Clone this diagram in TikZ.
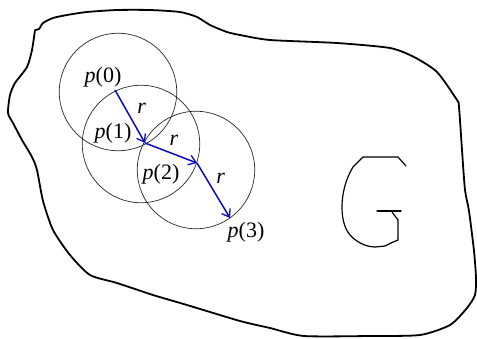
\documentclass[tikz,border=0pt]{standalone}
\usepackage{fontspec}
\setmainfont{Liberation Serif}
\newfontfamily\labelfont{Liberation Serif}
\usetikzlibrary{arrows.meta}
\definecolor{arrowblue}{RGB}{10,10,190}
\begin{document}
\begin{tikzpicture}[x=1pt,y=-1pt,
  ring/.style={circle,draw=black!85,line width=0.7pt,inner sep=0pt,minimum size=117.5pt},
  outline/.style={line width=1.8pt,line join=round,line cap=round},
  glyph/.style={line width=1.2pt,line join=round,line cap=round},
  stepvec/.style={draw=arrowblue,line width=1.5pt,-{Straight Barb[length=7pt,width=10pt,line width=1.3pt]}},
  lbl/.style={inner sep=0pt,font=\labelfont\fontsize{22}{24}\selectfont}]
\useasboundingbox (0,0) rectangle (477,338);
% region boundary
\draw[outline] plot[smooth,tension=0.4] coordinates {
 (35,30) (39,29) (43,23) (53,18) (67,15) (87,12) (117,10) (150,10) (180,12) (197,17)
 (210,25) (227,32) (240,35) (270,40) (337,43) (390,48) (414,57) (437,72) (457,100)
 (459,107) (462,150) (465,190) (469,211) (474,251) (476,278) (475,295) (467,308)
 (450,325) (420,335) (370,336) (304,336) (270,328) (240,321) (187,305) (153,295)
 (117,283) (90,275) (70,255) (53,230) (43,201) (37,170) (32,157) (22,140) (13,123)
 (8,113) (10,95) (15,83) (27,67) (32,50) (35,30)};
% circles
\node[ring] (c0) at (118,92) {};
\node[ring] (c1) at (141,144) {};
\node[ring] (c2) at (196,170) {};
% points
\coordinate (p0) at (115,90);
\coordinate (p1) at (145,143);
\coordinate (p2) at (197,163);
\coordinate (p3) at (230,218);
\draw[stepvec] (p0) -- (p1);
\draw[stepvec] (p1) -- (p2);
\draw[stepvec] (p2) -- (p3);
% labels
\node[lbl] (l0) at (103,77) {\textit{p}(0)};
\node[lbl] (l1) at (113,133) {\textit{p}(1)};
\node[lbl] (l2) at (161,174) {\textit{p}(2)};
\node[lbl] (l3) at (246,232.5) {\textit{p}(3)};
\node[lbl] (r1) at (141.7,108) {\textit{r}};
\node[lbl] (r2) at (174,140) {\textit{r}};
\node[lbl] (r3) at (220.7,178) {\textit{r}};
% hand-drawn G
\draw[glyph] (406,166) -- (398,157) -- (363,157) -- (353,167) .. controls (345,180) and (342,195) .. (342,207)
  .. controls (342,222) and (346,232) .. (353,238) .. controls (360,244) and (368,247) .. (375,247)
  -- (385,246) -- (393,242) -- (398,240) -- (398,220) -- (392,212);
\draw[glyph] (377,211) -- (401,211);
\end{tikzpicture}
\end{document}
